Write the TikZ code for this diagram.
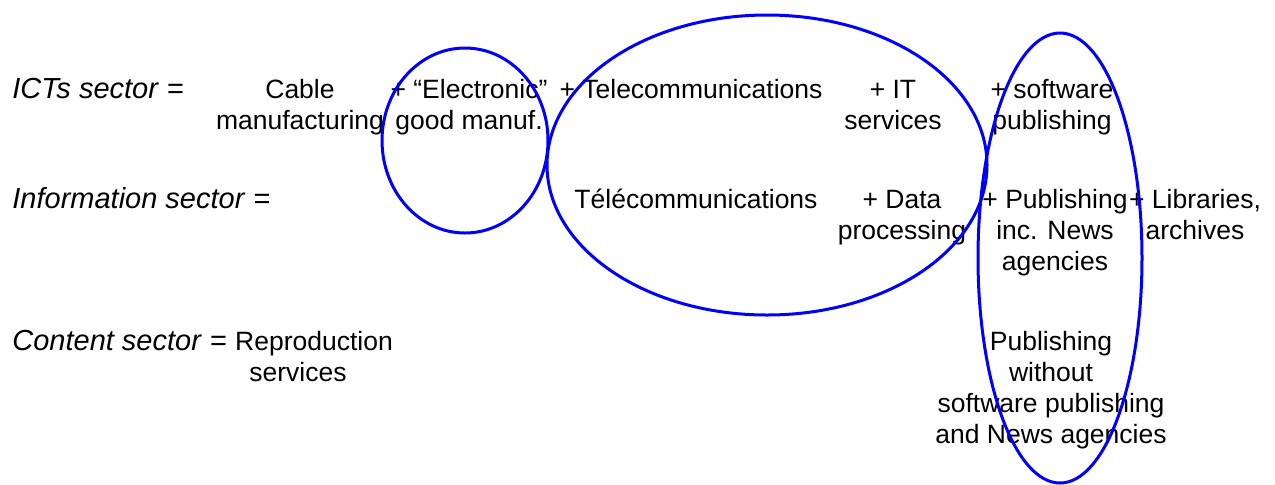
\documentclass[tikz,border=0pt]{standalone}
\usepackage{fontspec}
\setmainfont{Liberation Sans}
% strut that fixes the height of a first line, so a node's north lies
% 25 units above its first baseline
\newcommand\firstline{\rule{0pt}{12.5pt}}
\begin{document}
\begin{tikzpicture}[x=0.5pt,y=-0.5pt,
  body/.style={anchor=north, inner sep=0pt, align=center,
    font=\fontsize{13.25}{15.5}\selectfont},
  rowlabel/.style={anchor=base west, inner sep=0pt,
    font=\fontsize{14.5}{15.5}\selectfont},
  ring/.style={draw=blue, line width=1.5pt}]
\useasboundingbox (0,0) rectangle (1275,484);

% row labels
\node[rowlabel] (ict)  at (12,98)  {\textit{ICTs sector} =};
\node[rowlabel] (info) at (12,208) {\textit{Information sector} =};
\node[rowlabel] (cont) at (12,350) {\textit{Content sector} =};

% ICTs sector components (first baseline at 98)
\node[body] (cable) at (300,73)  {\firstline Cable\\manufacturing};
\node[body] (elec)  at (469,73)  {\firstline + “Electronic”\\good manuf.};
\node[body] (tel)   at (691,73)  {\firstline + Telecommunications};
\node[body] (its)   at (893,73)  {\firstline + IT\\services};
\node[body] (soft)  at (1052,73) {\firstline + software\\publishing};

% Information sector components (first baseline at 208)
\node[body] (telfr) at (696,183)  {\firstline Télécommunications};
\node[body] (data)  at (902,183)  {\firstline + Data\\processing};
\node[body] (pub)   at (1055,183) {\firstline + Publishing\\inc. News\\agencies};
\node[body] (lib)   at (1195,183) {\firstline + Libraries,\\archives};

% Content sector components (first baseline at 350)
\node[body] (repro) at (314,325)  {\firstline Reproduction\\services\hspace*{16pt}};
\node[body] (pubw)  at (1051,325) {\firstline Publishing\\without\\software publishing\\and News agencies};

% groupings
\draw[ring] (465,140.5) ellipse [x radius=41.5pt, y radius=46.25pt];
\draw[ring] (767,165)   ellipse [x radius=110pt,  y radius=75pt];
\draw[ring] (1060,258)  ellipse [x radius=41pt,   y radius=112.5pt];
\end{tikzpicture}
\end{document}
